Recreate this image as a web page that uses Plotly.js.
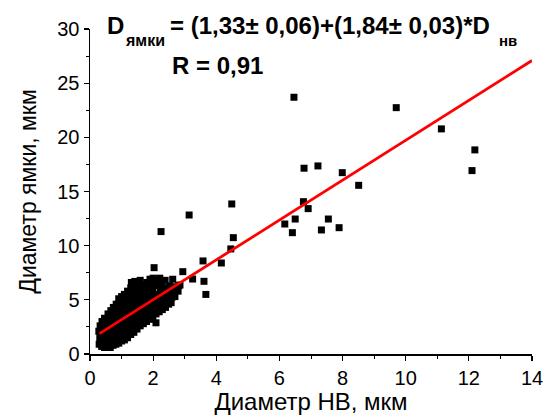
<!DOCTYPE html>
<html>
<head>
<meta charset="utf-8">
<script src="https://cdn.plot.ly/plotly-3.0.1.min.js"></script>
<style>html,body{margin:0;padding:0;background:#fff;}#chart{width:544px;height:420px;}</style>
</head>
<body>
<div id="chart"></div>
<script>
// Dense cluster of small indents
const clusterX = [0.29,0.31,0.28,0.32, 0.37,0.39,0.36,0.40,0.38, 0.46,0.48,0.45,0.49,0.47,0.46, 0.55,0.57,0.56,0.58,0.54,0.57, 0.64,0.66,0.65,0.63,0.67,0.64,0.66, 0.73,0.75,0.74,0.76,0.72,0.75,0.74, 0.82,0.84,0.83,0.85,0.81,0.84,0.83, 0.91,0.93,0.92,0.94,0.90,0.93,0.92,0.91, 1.00,1.02,1.01,1.03,0.99,1.02,1.01,1.00, 1.09,1.11,1.10,1.12,1.08,1.11,1.10,1.09, 1.19,1.21,1.20,1.22,1.18,1.21,1.20,1.19, 1.29,1.31,1.30,1.32,1.28,1.31,1.30,1.29,1.31, 1.39,1.41,1.40,1.42,1.38,1.41,1.40,1.39,1.42, 1.49,1.51,1.50,1.52,1.48,1.51,1.50,1.49, 1.59,1.61,1.60,1.62,1.58,1.61,1.60,1.59, 1.69,1.71,1.70,1.72,1.68,1.71,1.70, 1.79,1.81,1.80,1.82,1.78,1.81,1.80, 1.89,1.91,1.90,1.92,1.88,1.91,1.90, 1.99,2.01,2.00,2.02,1.98,2.01,2.00, 2.09,2.11,2.10,2.12,2.08,2.11, 2.19,2.21,2.20,2.22,2.18,2.21, 2.29,2.31,2.30,2.32,2.28, 2.39,2.41,2.40,2.42,2.38, 2.49,2.51,2.50,2.52, 2.59,2.61,2.60,2.62, 2.69,2.71, 2.79,2.81];
const clusterY = [0.9,1.5,2.1,2.6, 0.7,1.2,1.8,2.4,3.0, 0.6,1.1,1.6,2.2,2.8,3.3, 0.7,1.3,1.9,2.5,3.1,3.7, 0.6,1.0,1.6,2.2,2.8,3.4,4.0, 0.8,1.3,1.9,2.5,3.1,3.7,4.3, 0.9,1.5,2.1,2.7,3.3,3.9,4.6, 1.0,1.6,2.2,2.8,3.4,4.0,4.6,5.1, 1.2,1.8,2.4,3.0,3.6,4.2,4.8,5.3, 1.3,1.9,2.5,3.1,3.7,4.3,4.9,5.5, 1.5,2.1,2.7,3.3,3.9,4.5,5.1,5.8, 1.8,2.4,3.0,3.6,4.2,4.8,5.4,6.1,6.6, 2.0,2.6,3.2,3.8,4.4,5.0,5.6,6.2,6.7, 2.3,2.9,3.5,4.1,4.7,5.3,5.9,6.5, 2.6,3.2,3.8,4.4,5.0,5.6,6.2,6.8, 2.8,3.4,4.0,4.6,5.2,5.8,6.4, 3.0,3.6,4.2,4.8,5.4,6.0,6.6, 3.2,3.8,4.4,5.0,5.6,6.2,6.9, 3.4,4.0,4.6,5.2,5.8,6.4,7.0, 3.7,4.3,4.9,5.5,6.4,6.8, 3.9,4.5,5.1,5.7,6.3,7.0, 4.1,4.7,5.3,5.9,6.5, 4.3,4.9,5.5,6.1,6.8, 4.6,5.1,5.7,6.3, 5.2,5.6,6.2,6.9, 5.3,5.9, 5.8,6.3];

// Separate points
const outlierX = [2.09,2.57,2.03,2.25,2.85,2.94,3.14,3.25,3.58,3.61,3.67,4.16,4.46,4.54,4.49,6.17,6.41,6.50,6.46,6.76,6.91,6.78,7.22,7.33,7.55,7.89,7.99,8.51,9.70,11.13,12.10,12.19];
const outlierY = [2.88,4.74,7.97,11.3,6.37,7.6,12.83,6.92,8.59,6.71,5.5,8.4,9.7,10.74,13.85,12.0,11.2,12.46,23.7,14.06,13.42,17.15,17.36,11.45,12.46,11.66,16.74,15.57,22.74,20.78,16.93,18.84];

// Fit line D = 1.33 + 1.84*D_HB
const fitX = [0.3, 14];
const fitY = [1.88, 27.09];

const xTitle = 'Диаметр HB, мкм';
const yTitle = 'Диаметр ямки, мкм';
// Equation pieces (main text and subscripts)
const eqParts = ['D', 'ямки', '= (1,33± 0,06)+(1,84± 0,03)*D', 'нв'];
const rText = 'R = 0,91';

const FONT = 'Liberation Sans, Arial, sans-serif';

const traces = [
  {x: clusterX.concat(outlierX), y: clusterY.concat(outlierY), type: 'scatter', mode: 'markers',
   marker: {symbol: 'square', size: 7, color: '#000'}, hoverinfo: 'skip'},
  {x: fitX, y: fitY, type: 'scatter', mode: 'lines', line: {color: '#ff0000', width: 2.8}, hoverinfo: 'skip'}
];

function ann(text, x, y, size) {
  return {text: '<b>' + text + '</b>', xref: 'paper', yref: 'paper', x: x, y: y,
          xanchor: 'left', yanchor: 'middle', showarrow: false,
          font: {family: FONT, size: size, color: '#000'}};
}

const layout = {
  width: 544, height: 420,
  margin: {l: 90, r: 12, t: 29, b: 66},
  paper_bgcolor: '#fff', plot_bgcolor: '#fff',
  showlegend: false,
  font: {family: FONT, color: '#000'},
  xaxis: {
    range: [0, 14], dtick: 2, tick0: 0, showgrid: false, zeroline: false,
    showline: true, linecolor: '#000', linewidth: 1.5,
    ticks: 'outside', ticklen: 5, tickwidth: 1.2, tickcolor: '#000',
    minor: {ticks: 'outside', ticklen: 3, dtick: 1, tickcolor: '#000', tickwidth: 1},
    tickfont: {family: FONT, size: 20, color: '#000'},
    title: {text: xTitle, font: {family: FONT, size: 24, color: '#000'}, standoff: 5}
  },
  yaxis: {
    range: [0, 30], dtick: 5, tick0: 0, showgrid: false, zeroline: false,
    showline: true, linecolor: '#000', linewidth: 1.5,
    ticks: 'outside', ticklen: 5, tickwidth: 1.2, tickcolor: '#000',
    minor: {ticks: 'outside', ticklen: 3, dtick: 2.5, tickcolor: '#000', tickwidth: 1},
    tickfont: {family: FONT, size: 20, color: '#000'},
    title: {text: yTitle, font: {family: FONT, size: 23, color: '#000'}, standoff: 14}
  },
  annotations: [
    ann(eqParts[0], 0.034, 1.012, 24),
    ann(eqParts[1], 0.0747, 0.9646, 16),
    ann(eqParts[2], 0.1765, 1.012, 24),
    ann(eqParts[3], 0.921, 0.9646, 15),
    ann(rText, 0.181, 0.889, 24)
  ]
};

Plotly.newPlot('chart', traces, layout, {displayModeBar: false, staticPlot: true});
</script>
</body>
</html>
